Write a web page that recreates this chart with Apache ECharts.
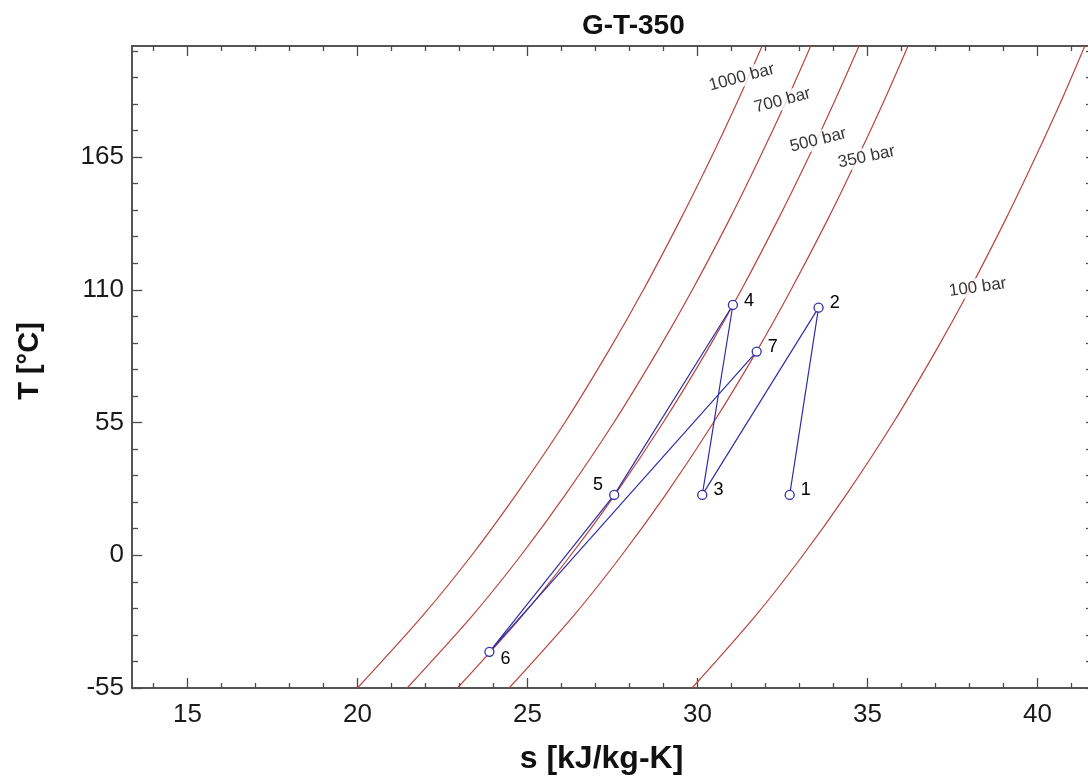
<!DOCTYPE html>
<html><head><meta charset="utf-8">
<script src="https://cdn.jsdelivr.net/npm/echarts@6/dist/echarts.min.js"></script>
<style>html,body{margin:0;padding:0;background:#fff;overflow:hidden;width:1088px;height:782px}#c{width:1095px;height:782px}</style>
</head><body><div id="c"></div>
<script>
// ---- data ----
const xMajorTicks = [15, 20, 25, 30, 35, 40];
const xMinorTicks = [14, 16, 17, 18, 19, 21, 22, 23, 24, 26, 27, 28, 29, 31, 32, 33, 34, 36, 37, 38, 39, 41];
const yMajorTicks = [-55, 0, 55, 110, 165];
const yMinorTicks = [-44, -33, -22, -11, 11, 22, 33, 44, 66, 77, 88, 99, 121, 132, 143, 154, 176, 187, 198, 209];

const isobarT = [-55, -25, 0, 25, 55, 85, 110, 140, 165, 190, 211];
const s1000 = [20.00, 21.92, 23.36, 24.66, 26.10, 27.40, 28.41, 29.53, 30.41, 31.24, 31.90];
const s700  = [21.46, 23.38, 24.81, 26.11, 27.54, 28.84, 29.85, 30.97, 31.84, 32.67, 33.33];
const s500  = [22.94, 24.85, 26.27, 27.57, 28.99, 30.29, 31.29, 32.40, 33.27, 34.09, 34.75];
const s350  = [24.46, 26.36, 27.77, 29.06, 30.47, 31.76, 32.75, 33.86, 34.72, 35.54, 36.19];
const s100  = [29.84, 31.71, 33.10, 34.37, 35.76, 37.02, 38.00, 39.09, 39.94, 40.75, 41.39];

const isobarNames  = ['1000 bar', '700 bar', '500 bar', '350 bar', '100 bar'];
const isobarLabelS = [31.30, 32.50, 33.55, 34.97, 38.24];
const isobarLabelT = [198, 188.4, 172, 165, 111];

const stateNames = ['1', '2', '3', '4', '5', '6', '7'];
const stateS = [32.71, 33.56, 30.14, 31.04, 27.55, 23.88, 31.74];
const stateT = [25, 102.6, 25, 103.7, 25, -40, 84.4];

// ---- styling ----
const FONT = 'Liberation Sans, Arial, Helvetica, sans-serif';
const AXIS_COLOR = '#4a4a4a';
const RED = '#b8453c';
const BLUE = '#2e2eaa';
const labelRot = [15, 15, 14, 12, 8];
const statePos = {
  '1': {position: 'right', offset: [0, -5]},
  '2': {position: 'right', offset: [0, -5]},
  '3': {position: 'right', offset: [0, -5]},
  '4': {position: 'right', offset: [0, -4]},
  '5': {position: 'left', offset: [0, -10]},
  '6': {position: 'right', offset: [0, 7]},
  '7': {position: 'right', offset: [0, -5]}
};
const X_MIN = 13.37, X_MAX = 41.63, Y_MIN = -55, Y_MAX = 211;

function xAx(pos, values, len, labels) {
  return {
    type: 'value', position: pos, min: X_MIN, max: X_MAX,
    axisLine: {show: true, onZero: false, lineStyle: {color: AXIS_COLOR, width: 1.5}},
    axisTick: {show: true, inside: true, length: len, customValues: values, lineStyle: {color: AXIS_COLOR, width: 1.3}},
    axisLabel: labels ? {show: true, customValues: values, margin: 14, fontSize: 26, color: '#1a1a1a', fontFamily: FONT} : {show: false},
    splitLine: {show: false}
  };
}
function yAx(pos, values, len, labels) {
  return {
    type: 'value', position: pos, min: Y_MIN, max: Y_MAX,
    axisLine: {show: true, onZero: false, lineStyle: {color: AXIS_COLOR, width: 1.5}},
    axisTick: {show: true, inside: true, length: len, customValues: values, lineStyle: {color: AXIS_COLOR, width: 1.3}},
    axisLabel: labels ? {show: true, customValues: values, margin: 8, fontSize: 26, color: '#1a1a1a', fontFamily: FONT} : {show: false},
    splitLine: {show: false}
  };
}

const xAxes = [xAx('bottom', xMajorTicks, 10, true), xAx('bottom', xMinorTicks, 5, false),
               xAx('top', xMajorTicks, 10, false), xAx('top', xMinorTicks, 5, false)];
xAxes[0].name = 's [kJ/kg-K]';
xAxes[0].nameLocation = 'middle';
xAxes[0].nameGap = 55;
xAxes[0].nameTextStyle = {fontSize: 32, fontWeight: 'bold', color: '#111', fontFamily: FONT, padding: [0, 22, 0, 0]};

const yAxes = [yAx('left', yMajorTicks, 10, true), yAx('left', yMinorTicks, 6, false),
               yAx('right', yMajorTicks, 7, false), yAx('right', yMinorTicks, 7, false)];
yAxes[0].name = 'T [°C]';
yAxes[0].nameLocation = 'middle';
yAxes[0].nameGap = 88;
yAxes[0].nameTextStyle = {fontSize: 29, fontWeight: 'bold', color: '#111', fontFamily: FONT, padding: [0, 0, 0, 12]};

const isobarS = [s1000, s700, s500, s350, s100];
const series = [];
isobarS.forEach((arr, i) => {
  series.push({
    type: 'line', name: isobarNames[i], xAxisIndex: 0, yAxisIndex: 0,
    data: arr.map((s, k) => [s, isobarT[k]]),
    smooth: 0.3, symbol: 'none', clip: true, z: 2,
    lineStyle: {color: RED, width: 1.2}, silent: true
  });
});
series.push({
  type: 'scatter', xAxisIndex: 0, yAxisIndex: 0, symbolSize: 0, z: 5, silent: true,
  data: isobarNames.map((n, i) => ({
    value: [isobarLabelS[i], isobarLabelT[i]],
    label: {rotate: labelRot[i]}
  })),
  label: {
    show: true, position: 'inside', color: '#000', fontSize: 17, fontFamily: FONT,
    backgroundColor: '#fff', padding: [1, 2],
    formatter: p => isobarNames[p.dataIndex]
  }
});
series.push({
  type: 'line', xAxisIndex: 0, yAxisIndex: 0, z: 4, silent: true,
  data: stateNames.map((n, i) => ({value: [stateS[i], stateT[i]], label: statePos[n]})),
  symbol: 'circle', symbolSize: 9, showAllSymbol: true,
  itemStyle: {color: '#fff', borderColor: BLUE, borderWidth: 1.3},
  lineStyle: {color: BLUE, width: 1.2},
  label: {show: true, distance: 6, fontSize: 18, color: '#000', fontFamily: FONT,
          formatter: p => stateNames[p.dataIndex]}
});

const chart = echarts.init(document.getElementById('c'), null, {renderer: 'canvas'});
chart.setOption({
  animation: false,
  backgroundColor: '#fff',
  title: {text: 'G-T-350', left: 577, top: 7,
          textStyle: {fontSize: 28, fontWeight: 'bold', color: '#111', fontFamily: FONT}},
  grid: {left: 132, top: 46, width: 961, height: 642, containLabel: false},
  xAxis: xAxes,
  yAxis: yAxes,
  series: series
});
</script>
</body></html>
